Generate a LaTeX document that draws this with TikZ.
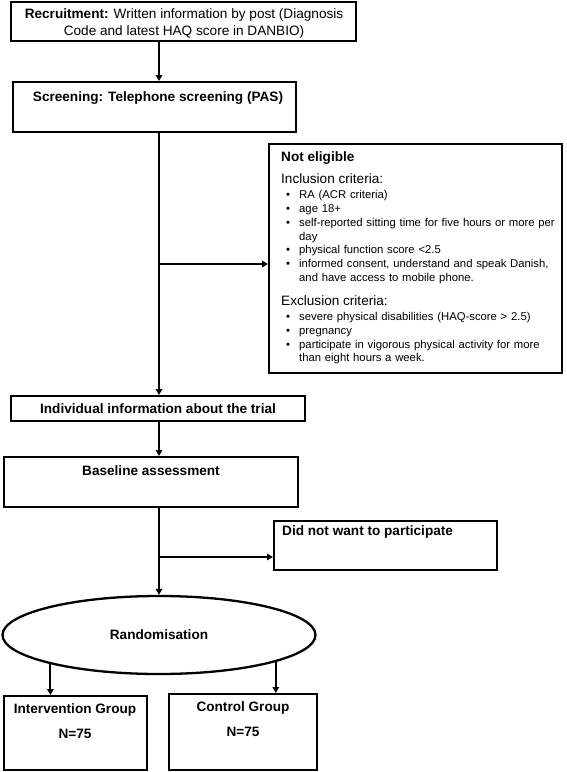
\documentclass[tikz,border=0pt]{standalone}
\usepackage{fontspec}
\setmainfont{Liberation Sans}
\usetikzlibrary{arrows.meta,shapes.geometric}
\newcommand{\bitem}[1]{\hspace*{5pt}\makebox[13pt][l]{\textbullet}#1}
\newcommand{\bcont}[1]{\hspace*{18pt}#1}
\begin{document}
\begin{tikzpicture}[x=1pt,y=-1pt,
  box/.style={draw, line width=2.3pt, rectangle, inner sep=0pt, anchor=north west},
  arr/.style={line width=2.2pt, -{Triangle[length=6pt,width=6.5pt]}},
  ttl/.style={font=\bfseries\fontsize{13.6}{16}\selectfont, inner sep=0pt}]
\useasboundingbox (0,0) rectangle (567,772);
\fill[white] (0,0) rectangle (567,772);

\node[box, minimum width=345pt, minimum height=39pt] (rec) at (10,1) {};
\node[align=center, inner sep=0pt, font=\fontsize{13.6}{17}\selectfont] (rect) at (184,23.5) {\textbf{Recruitment:} Written information by post (Diagnosis\\Code and latest HAQ score in DANBIO)};

\node[box, minimum width=283pt, minimum height=50pt] (scr) at (12,81) {};
\node[ttl] (scrt) at (158,98) {Screening: Telephone screening (PAS)};

\node[box, line width=1.8pt, minimum width=293pt, minimum height=229pt] (ne) at (268,143) {};
\node[anchor=north west, inner sep=0pt, text width=280pt, align=left, font=\fontsize{11.3}{13.8}\selectfont] (net) at (281,151) {%
{\bfseries\fontsize{13.6}{13.8}\selectfont Not eligible}\\[9pt]
{\fontsize{13.6}{13.8}\selectfont Inclusion criteria:}\\[1pt]
\bitem{RA (ACR criteria)}\\
\bitem{age 18+}\\
\bitem{self-reported sitting time for five hours or more per}\\
\bcont{day}\\
\bitem{physical function score <2.5}\\
\bitem{informed consent, understand and speak Danish,}\\
\bcont{and have access to mobile phone.}\\[10pt]
{\fontsize{13.6}{13.8}\selectfont Exclusion criteria:}\\[1.5pt]
\bitem{severe physical disabilities (HAQ-score > 2.5)}\\
\bitem{pregnancy}\\
\bitem{participate in vigorous physical activity for more}\\
\bcont{than eight hours a week.}};

\node[box, minimum width=294pt, minimum height=25pt] (ind) at (10,395) {};
\node[ttl] (indt) at (158,409) {Individual information about the trial};

\node[box, minimum width=294pt, minimum height=50pt] (base) at (3,456) {};
\node[ttl] (baset) at (151,471) {Baseline assessment};

\node[box, minimum width=223pt, minimum height=49pt] (dnw) at (273,520) {};
\node[ttl, anchor=west] (dnwt) at (282,532) {Did not want to participate};

\node[draw, ellipse, line width=2.3pt, minimum width=313pt, minimum height=78pt, inner sep=0pt, font=\bfseries\fontsize{13.6}{16}\selectfont] (rand) at (159,635) {Randomisation};

\node[box, minimum width=143pt, minimum height=74pt] (int) at (3,695) {};
\node[ttl, align=center] (intt) at (75,721) {Intervention Group\\[9pt]N=75};

\node[box, minimum width=148pt, minimum height=76pt] (ctl) at (168,693) {};
\node[ttl, align=center] (ctlt) at (243,719.5) {Control Group\\[9pt]N=75};

\coordinate (tk) at (159,0);
\draw[arr] (rec.south -| tk) -- (scr.north -| tk);
\draw[arr] (scr.south -| tk) -- (ind.north -| tk);
\coordinate (br1) at (159,264);
\draw[arr] (br1) -- (br1 -| ne.west);
\draw[arr] (ind.south -| tk) -- (base.north -| tk);
\draw[arr] (base.south -| tk) -- (rand.north);
\coordinate (br2) at (159,557);
\draw[arr] (br2) -- (br2 -| dnw.west);
\draw[arr] (rand.195.3) -- (rand.195.3 |- int.north);
\draw[arr] (rand.-13.55) -- (rand.-13.55 |- ctl.north);
\end{tikzpicture}
\end{document}
